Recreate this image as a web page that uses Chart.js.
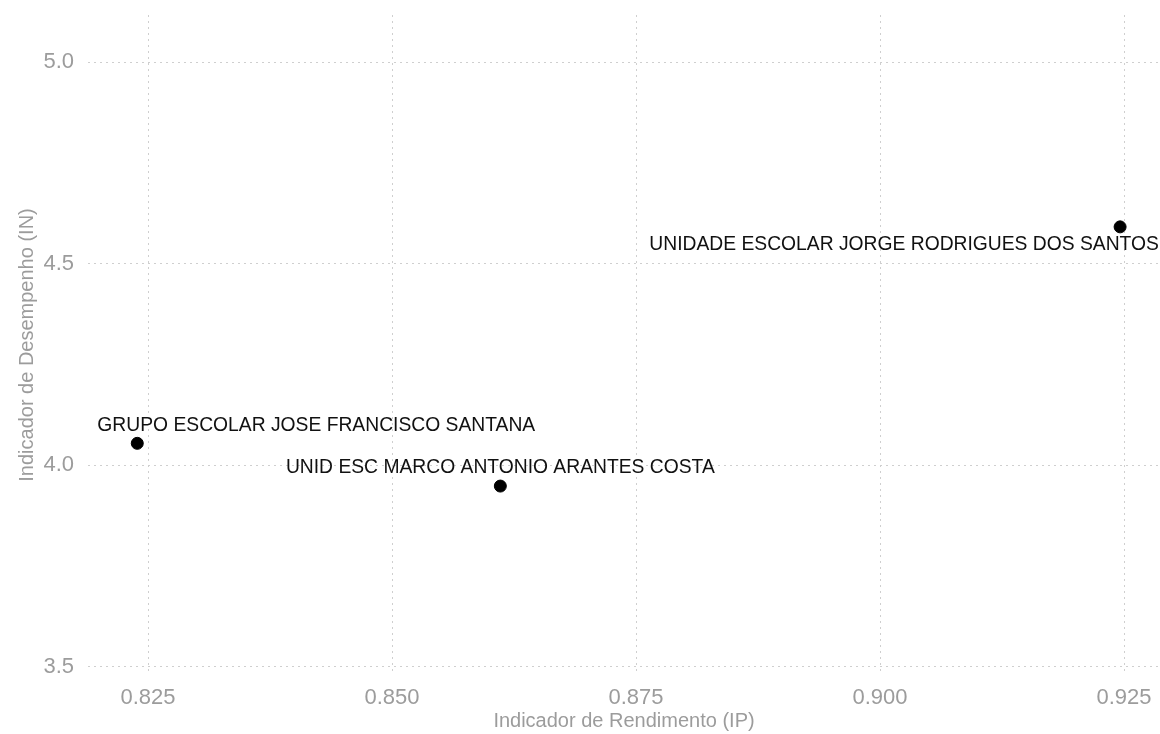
<!DOCTYPE html>
<html>
<head>
<meta charset="utf-8">
<script src="https://cdn.jsdelivr.net/npm/chart.js@4"></script>
<style>
  html, body { margin: 0; padding: 0; background: #fff; }
  #wrap { width: 1160px; height: 734px; }
</style>
</head>
<body>
<div id="wrap"><canvas id="myChart" width="1160" height="734"></canvas></div>
<script>
// data
const schools = [
    "GRUPO ESCOLAR JOSE FRANCISCO SANTANA",
    "UNID ESC MARCO ANTONIO ARANTES COSTA",
    "UNIDADE ESCOLAR JORGE RODRIGUES DOS SANTOS"
];
const ipValues = [0.8239, 0.8611, 0.9246];
const inValues = [4.054, 3.948, 4.591];
const xTicks = [0.825, 0.850, 0.875, 0.900, 0.925];
const yTicks = [3.5, 4.0, 4.5, 5.0];

// label offsets from the point, in pixels (like the repelled labels)
const labelOffsets = [[179, -18], [0, -18], [-216, 18]];

const gridColor = "#cfcfcf";
const axisText = "#9c9c9c";
const fontFamily = "'Liberation Sans', Arial, Helvetica, sans-serif";

const pointLabels = {
    id: "pointLabels",
    afterDatasetsDraw(chart) {
        const ctx = chart.ctx;
        const meta = chart.getDatasetMeta(0);
        ctx.save();
        ctx.font = "19.3px " + fontFamily;
        ctx.fillStyle = "#111";
        ctx.textAlign = "center";
        ctx.textBaseline = "middle";
        meta.data.forEach((pt, i) => {
            const off = labelOffsets[i];
            ctx.fillText(schools[i], pt.x + off[0], pt.y + off[1]);
        });
        ctx.restore();
    }
};

const chartData = {
    datasets: [
        {
            data: ipValues.map((v, i) => ({ x: v, y: inValues[i] })),
            backgroundColor: "#000",
            borderColor: "#000",
            pointRadius: 6,
            pointHoverRadius: 6,
        },
    ],
};

const options = {
    responsive: false,
    animation: false,
    layout: { autoPadding: false, padding: { top: 15, right: 0, left: 0, bottom: 0 } },
    plugins: { legend: { display: false }, tooltip: { enabled: false } },
    scales: {
        x: {
            type: "linear",
            min: 0.818852,
            max: 0.928688,
            afterBuildTicks: s => { s.ticks = xTicks.map(v => ({ value: v })); },
            afterFit: s => { s.height = 59; s.paddingLeft = 0; s.paddingRight = 0; },
            border: { display: false, dash: [2, 4] },
            grid: { color: gridColor, lineWidth: 1, drawTicks: false },
            ticks: {
                padding: 10,
                color: axisText,
                font: { family: fontFamily, size: 22 },
                callback: v => v.toFixed(3),
                maxRotation: 0,
            },
            title: {
                display: true,
                text: "Indicador de Rendimento (IP)",
                color: axisText,
                font: { family: fontFamily, size: 20 },
                padding: { top: 0, bottom: 1 },
            },
        },
        y: {
            type: "linear",
            min: 3.4793,
            max: 5.1166,
            afterBuildTicks: s => { s.ticks = yTicks.map(v => ({ value: v })); },
            afterFit: s => { s.width = 88; s.paddingTop = 0; s.paddingBottom = 0; },
            border: { display: false, dash: [2, 4] },
            grid: { color: gridColor, lineWidth: 1, drawTicks: false },
            ticks: {
                padding: 14,
                color: axisText,
                font: { family: fontFamily, size: 22 },
                callback: v => v.toFixed(1),
            },
            title: {
                display: true,
                text: "Indicador de Desempenho (IN)",
                color: axisText,
                font: { family: fontFamily, size: 20 },
                padding: { top: 15, bottom: 0 },
            },
        },
    },
};

const ctx = document.getElementById("myChart").getContext("2d");
new Chart(ctx, {
    type: "scatter",
    data: chartData,
    options: options,
    plugins: [pointLabels],
});
</script>
</body>
</html>
